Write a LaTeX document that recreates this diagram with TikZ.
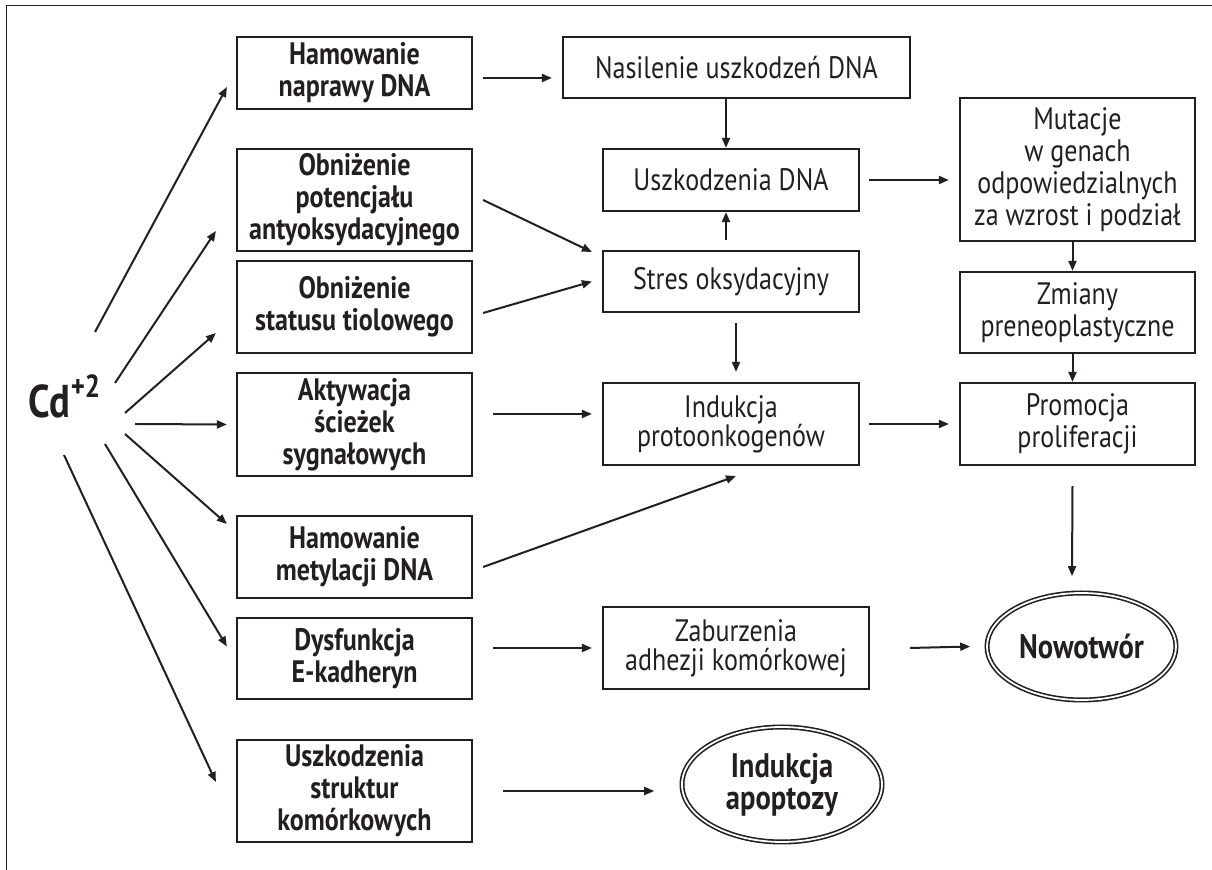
\documentclass[tikz,border=0pt]{standalone}
\usepackage{fontspec}
\setmainfont[FakeStretch=0.84]{PT Sans}
\usetikzlibrary{arrows.meta,shapes.geometric,calc}
\definecolor{ink}{RGB}{35,31,32}

\begin{document}
\begin{tikzpicture}[x=0.5pt,y=-0.5pt,
  box/.style={draw=ink, text=ink, line width=1.1pt, inner sep=2pt, align=center},
  cause/.style={box, minimum width=117.5pt, font=\bfseries\fontsize{15.5}{16}\selectfont},
  effect/.style={box, font=\fontsize{15.5}{16}\selectfont},
  tight/.style={font=\fontsize{15.5}{14.5}\selectfont},
  final/.style={ellipse, draw=ink, text=ink, double, double distance=0.9pt, line width=0.8pt,
    inner sep=0pt, align=center, font=\bfseries\fontsize{17}{16}\selectfont},
  arr/.style={draw=ink, line width=1pt, -{Triangle[length=5pt,width=4pt]}}]
\useasboundingbox (0,0) rectangle (1212,870);
\draw[ink, line width=0.5pt] (1212,6) -- (6,6) -- (6,870);

% source
\node[text=ink, inner sep=0pt, anchor=base west, font=\bfseries\fontsize{23}{23}\selectfont] (cd) at (28,418)
  {Cd\raisebox{10pt}{\fontsize{16}{16}\selectfont+2}};
\coordinate (s1) at (95,332);
\coordinate (s2) at (115,383);
\coordinate (s3) at (125,413);
\coordinate (s4) at (135,424);
\coordinate (s5) at (125,434);
\coordinate (s6) at (105,444);
\coordinate (s7) at (64,455);

% left column
\node[cause, minimum height=36pt] (c1) at (354.5,73) {Hamowanie\\naprawy DNA};
\node[cause, minimum height=51pt] (c2) at (354.5,200) {Obniżenie\\potencjału\\antyoksydacyjnego};
\node[cause, minimum height=46pt] (c3) at (354.5,307) {Obniżenie\\statusu tiolowego};
\node[cause, minimum height=51.5pt] (c4) at (354.5,424.5) {Aktywacja\\ścieżek\\sygnałowych};
\node[cause, minimum height=41pt] (c5) at (354.5,557) {Hamowanie\\metylacji DNA};
\node[cause, minimum height=40.5pt] (c6) at (354.5,658.5) {Dysfunkcja\\E-kadheryn};
\node[cause, minimum height=51pt] (c7) at (354.5,791) {Uszkodzenia\\struktur\\komórkowych};

% middle column
\node[effect, minimum width=173.5pt, minimum height=30.5pt] (m1) at (736.5,67.5) {Nasilenie uszkodzeń DNA};
\node[effect, minimum width=128pt, minimum height=31pt] (m2) at (731,180) {Uszkodzenia DNA};
\node[effect, minimum width=128pt, minimum height=30.5pt] (m3) at (731,281.5) {Stres oksydacyjny};
\node[effect, tight, minimum width=128pt, minimum height=41pt] (m4) at (731,424) {Indukcja\\protoonkogenów};
\node[effect, tight, minimum width=133pt, minimum height=41pt] (m5) at (736,648) {Zaburzenia\\adhezji komórkowej};
\node[final, minimum width=100pt, minimum height=57.5pt] (ap) at (782,784.5) {Indukcja\\apoptozy};

% right column
\node[effect, minimum width=117.5pt, minimum height=71.5pt] (r1) at (1077.5,169.5) {Mutacje\\w genach\\odpowiedzialnych\\za wzrost i podział};
\node[effect, minimum width=117.5pt, minimum height=40.5pt] (r2) at (1077.5,312.5) {Zmiany\\preneoplastyczne};
\node[effect, minimum width=117.5pt, minimum height=41pt] (r3) at (1077.5,424) {Promocja\\proliferacji};
\node[final, minimum width=94.5pt, minimum height=53.5pt] (nw) at (1081.5,646.5) {Nowotwór};

% Cd -> causes
\path[arr] (s1) -- ($(c1.west)+(-9,14)$);
\path[arr] (s2) -- ($(c2.west)+(-20,31)$);
\path[arr] (s3) -- ($(c3.west)+(-20,26)$);
\path[arr] (s4) -- ($(c4.west)+(-9,0)$);
\path[arr] (s5) -- ($(c5.west)+(-9,-33)$);
\path[arr] (s6) -- ($(c6.west)+(-9,-12)$);
\path[arr] (s7) -- ($(c7.west)+(-20,-9)$);

% causes -> effects
\path[arr] ($(c1.east)+(10,5)$) -- ($(m1.west)+(-10,10.5)$);
\path[arr] ($(c2.east)+(10,0)$) -- ($(m3.west)+(-10,-29.5)$);
\path[arr] ($(c3.east)+(10,6)$) -- ($(m3.west)+(-10,0)$);
\path[arr] ($(c4.east)+(20,-10.5)$) -- ($(m4.west)+(-10,-10)$);
\path[arr] ($(c5.east)+(10,10)$) -- ($(m4.south)+(5,10)$);
\path[arr] ($(c6.east)+(20,-10.5)$) -- ($(m5.west)+(-10,0)$);
\path[arr] ($(c7.east)+(30,0)$) -- ($(ap.west)+(-27,6.5)$);

% middle
\path[arr] ($(m1.south)+(-10.5,0)$) -- ($(m2.north)+(-5,0)$);
\path[arr] ($(m3.north)+(-5,-10)$) -- ($(m2.south)+(-5,0)$);
\path[arr] ($(m3.south)+(5,10)$) -- ($(m4.north)+(5,-10)$);
\path[arr] ($(m2.east)+(9,0)$) -- ($(r1.west)+(-10,10.5)$);
\path[arr] ($(m4.east)+(9,0)$) -- ($(r3.west)+(-10,0)$);
\path[arr] ($(m5.east)+(40,0)$) -- ($(nw.west)+(-16,0)$);

% right
\path[arr] ($(r1.south)+(-5,0)$) -- ($(r2.north)+(-5,0)$);
\path[arr] ($(r2.south)+(-5,0)$) -- ($(r3.north)+(-5,0)$);
\path[arr] ($(r3.south)+(-5,20)$) -- ($(nw.north)+(-9.5,-16)$);
\end{tikzpicture}
\end{document}
